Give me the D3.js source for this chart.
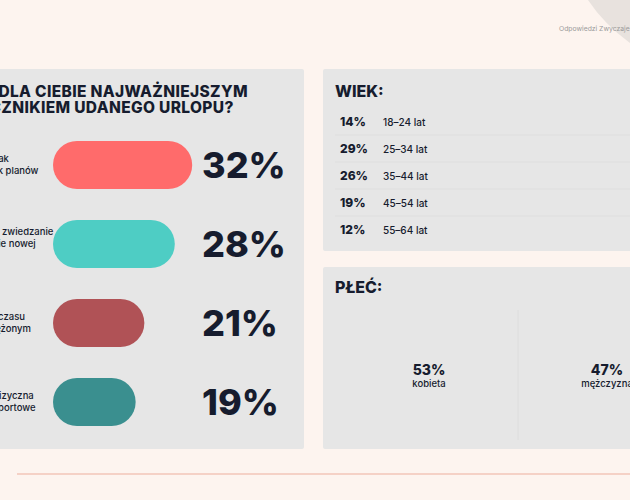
<!DOCTYPE html>
<html>
<head>
<meta charset="utf-8">
<script src="https://cdn.jsdelivr.net/npm/d3@7"></script>
<style>
  html, body { margin: 0; padding: 0; background: #fdf4ef; }
  svg { display: block; font-family: Inter, "Noto Sans", sans-serif; }
</style>
</head>
<body>
<div id="chart"></div>
<script>
// main question: answers (line-broken labels) and shares in %
const reasonLabels = [
    ["Wolność i brak", "jakichkolwiek planów"],
    ["Odkrywanie, zwiedzanie", "oraz poznanie nowej", "kultury"],
    ["Sporo luzu i czasu", "ciałem odprężonym"],
    ["Aktywność fizyczna", "lub zajęcia sportowe"]
];
const reasonShares = [32, 28, 21, 19];

// respondents by age
const ageGroups = ["18–24 lat", "25–34 lat", "35–44 lat", "45–54 lat", "55–64 lat"];
const ageShares = [14, 29, 26, 19, 12];

// respondents by gender
const genders = ["kobieta", "mężczyzna"];
const genderShares = [53, 47];

const questionLines = ["CO JEST DLA CIEBIE NAJWAŻNIEJSZYM", "WYZNACZNIKIEM UDANEGO URLOPU?"];

const width = 630, height = 500;
const ink = "#161c2e";
const panelFill = "#e6e6e6";
const palette = ["#ff6b6b", "#4ecdc4", "#b05256", "#3a8f8f"];

let svg = d3.select("#chart")
    .append("svg")
    .attr("width", width)
    .attr("height", height);

svg.append("rect")
    .attr("width", width).attr("height", height)
    .attr("fill", "#fdf4ef");

// corner decoration + source note
svg.append("path")
    .attr("d", "M588,0 Q604,24 630,43 L630,0 Z")
    .attr("fill", "#e8e2de");

svg.append("text")
    .attr("x", 559).attr("y", 31)
    .attr("font-size", 6.8)
    .attr("fill", "#9a9a9a")
    .text("Odpowiedzi Zwyczaje urlopowe Polaków");

// panels
svg.append("rect")
    .attr("x", -20).attr("y", 69).attr("width", 324).attr("height", 380)
    .attr("rx", 2).attr("fill", panelFill);
svg.append("rect")
    .attr("x", 323).attr("y", 69).attr("width", 330).attr("height", 182)
    .attr("rx", 2).attr("fill", panelFill);
svg.append("rect")
    .attr("x", 323).attr("y", 267).attr("width", 330).attr("height", 182)
    .attr("rx", 2).attr("fill", panelFill);

// bottom rule
svg.append("line")
    .attr("x1", 17).attr("x2", width)
    .attr("y1", 474).attr("y2", 474)
    .attr("stroke", "#f2c6b8").attr("stroke-width", 1.5);

// ---- left panel: question + pill bars ----
svg.append("text")
    .attr("y", 97)
    .attr("font-size", 15.5).attr("font-weight", 800)
    .attr("letter-spacing", 0.35)
    .attr("fill", ink)
    .selectAll("tspan")
    .data(questionLines)
    .join("tspan")
    .attr("x", -74)
    .attr("dy", (d, i) => i === 0 ? 0 : 16)
    .text(d => d);

let idx = d3.range(reasonShares.length);

let yScale = d3.scaleBand()
    .domain(idx)
    .range([141, 426])
    .paddingInner(0.392);

let xScale = d3.scaleLinear()
    .domain([0, 100])
    .range([53, 53 + 435]);

let bh = yScale.bandwidth();

svg.append("g")
    .selectAll("rect")
    .data(idx)
    .join("rect")
    .attr("x", xScale(0))
    .attr("y", i => yScale(i))
    .attr("width", i => xScale(reasonShares[i]) - xScale(0))
    .attr("height", bh)
    .attr("rx", bh / 2)
    .attr("fill", i => palette[i]);

svg.append("g")
    .selectAll("text")
    .data(idx)
    .join("text")
    .attr("x", 202)
    .attr("y", i => yScale(i) + bh / 2 + 13)
    .attr("font-size", 36).attr("font-weight", 800)
    .attr("fill", ink)
    .text(i => reasonShares[i] + "%");

let labels = svg.append("g")
    .selectAll("text")
    .data(idx)
    .join("text")
    .attr("font-size", 9.5).attr("font-weight", 500)
    .attr("fill", ink);

labels.each(function (i) {
    let lines = reasonLabels[i];
    let top = yScale(i) + bh / 2 + 3 - (lines.length - 1) * 12 / 2;
    d3.select(this).selectAll("tspan")
        .data(lines)
        .join("tspan")
        .attr("x", -58)
        .attr("y", (d, j) => top + j * 12)
        .text(d => d);
});

// ---- WIEK panel ----
svg.append("text")
    .attr("x", 335).attr("y", 97)
    .attr("font-size", 16).attr("font-weight", 800)
    .attr("fill", ink)
    .text("WIEK:");

let ageScale = d3.scaleBand()
    .domain(ageGroups)
    .range([108, 243]);

let ageRows = svg.append("g")
    .selectAll("g")
    .data(ageGroups)
    .join("g")
    .attr("transform", d => "translate(0," + ageScale(d) + ")");

ageRows.filter((d, i) => i > 0)
    .append("line")
    .attr("x1", 335).attr("x2", width)
    .attr("stroke", "#dcdcdc").attr("stroke-width", 0.8);

ageRows.append("text")
    .attr("x", 340).attr("y", 18)
    .attr("font-size", 12).attr("font-weight", 800)
    .attr("fill", ink)
    .text((d, i) => ageShares[i] + "%");

ageRows.append("text")
    .attr("x", 383).attr("y", 18)
    .attr("font-size", 10).attr("font-weight", 500)
    .attr("fill", ink)
    .text(d => d);

// ---- PŁEĆ panel ----
svg.append("text")
    .attr("x", 335).attr("y", 293)
    .attr("font-size", 16).attr("font-weight", 800)
    .attr("fill", ink)
    .text("PŁEĆ:");

let genderScale = d3.scaleBand()
    .domain(genders)
    .range([340, 696]);

svg.append("line")
    .attr("x1", genderScale(genders[1])).attr("x2", genderScale(genders[1]))
    .attr("y1", 310).attr("y2", 440)
    .attr("stroke", "#dadada").attr("stroke-width", 0.8);

let gCols = svg.append("g")
    .selectAll("g")
    .data(genders)
    .join("g")
    .attr("transform", d => "translate(" + (genderScale(d) + genderScale.bandwidth() / 2) + ",0)");

gCols.append("text")
    .attr("y", 375)
    .attr("text-anchor", "middle")
    .attr("font-size", 14).attr("font-weight", 800)
    .attr("fill", ink)
    .text((d, i) => genderShares[i] + "%");

gCols.append("text")
    .attr("y", 387)
    .attr("text-anchor", "middle")
    .attr("font-size", 9.5).attr("font-weight", 500)
    .attr("fill", ink)
    .text(d => d);
</script>
</body>
</html>
